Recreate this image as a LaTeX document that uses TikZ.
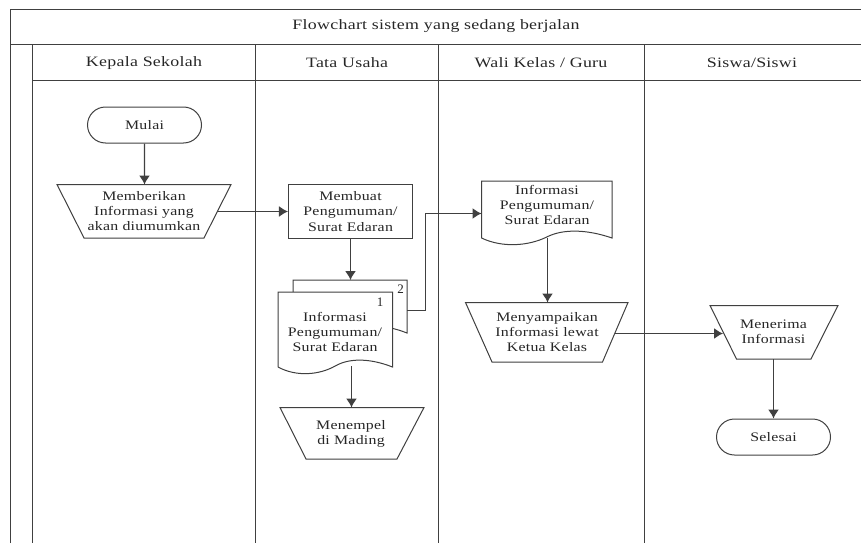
\documentclass[tikz,border=0pt]{standalone}
\usepackage{fontspec}
\setmainfont{Liberation Serif}
\usetikzlibrary{arrows.meta,shapes.misc}
\definecolor{ink}{HTML}{404040}
\tikzset{
  x=1pt,y=-1pt,
  labfont/.style={font=\fontsize{13}{15.2}\selectfont\addfontfeature{FakeStretch=1.22,LetterSpace=2}},
  frameline/.style={draw=ink,line width=1.3pt},
  thin line/.style={draw=ink,line width=1.1pt},
  lab/.style={labfont,align=center,text=black!85,inner sep=0pt},
  head/.style={font=\fontsize{14.3}{15}\selectfont\addfontfeature{FakeStretch=1.25,LetterSpace=2},align=center,text=black!85,inner sep=0pt},
  conn/.style={draw=ink,line width=1.3pt,-{Latex[length=9pt,width=11pt]}},
  terminal/.style={rounded rectangle,draw=ink,line width=1pt,minimum width=114pt,minimum height=36pt,inner sep=0pt,labfont,text=black!85},
  boxn/.style={rectangle,draw=ink,line width=1.1pt,fill=white,align=center,inner sep=0pt,labfont,text=black!85}
}
\newcommand{\docshape}[4]{% x1 x2 ytop ybottom-of-side
  \path[fill=white,draw=ink,line width=1pt] (#1,#4) -- (#1,#3) -- (#2,#3) -- (#2,#4)
   .. controls ({#2-0.2*(#2-#1)},{#4-9}) and ({#1+0.62*(#2-#1)},{#4-9}) .. ({#1+0.5*(#2-#1)},{#4-1})
   .. controls ({#1+0.36*(#2-#1)},{#4+8}) and ({#1+0.16*(#2-#1)},{#4+10}) .. (#1,#4);
}
\newcommand{\trap}[6]{% x1 x2 x3 x4 y1 y2
  \path[fill=white,draw=ink,line width=1pt] (#1,#5) -- (#2,#5) -- (#4,#6) -- (#3,#6) -- cycle;
}
\begin{document}
\begin{tikzpicture}
\useasboundingbox (0,0) rectangle (861,543);
% frame
\draw[frameline] (10.5,543) -- (10.5,9.5) -- (861,9.5);
\draw[frameline] (10.5,44.5) -- (861,44.5);
\draw[frameline] (32.5,44.5) -- (32.5,543);
\draw[thin line] (32.5,80.5) -- (861,80.5);
\draw[thin line] (255.5,44.5) -- (255.5,543);
\draw[thin line] (438.5,44.5) -- (438.5,543);
\draw[thin line] (644.5,44.5) -- (644.5,543);
\node[head] (title) at (436,26.5) {Flowchart sistem yang sedang berjalan};
\node[head] (h1) at (144,63) {Kepala Sekolah};
\node[head] (h2) at (347,63) {Tata Usaha};
\node[head] (h3) at (541,63) {Wali Kelas / Guru};
\node[head] (h4) at (752,63) {Siswa/Siswi};
% shapes
\node[terminal] (mulai) at (144.5,125) {Mulai};
\trap{57}{231}{84}{204}{184.5}{238}
\node[lab] (t1) at (144,211) {Memberikan\\Informasi yang\\akan diumumkan};
\coordinate (t1t) at (144.5,184.5);
\coordinate (t1r) at (217.5,211.5);
\node[boxn,minimum width=124pt,minimum height=54pt] (buat) at (350.5,211.5) {Membuat\\Pengumuman/\\Surat Edaran};
\docshape{293}{407}{280}{333}
\docshape{278}{392.5}{292}{367}
\node[lab] (d1) at (335,332) {Informasi\\Pengumuman/\\Surat Edaran};
\node[lab,font=\fontsize{13}{13}\selectfont] (n1) at (380,302) {1};
\node[lab,font=\fontsize{13}{13}\selectfont] (n2) at (400.5,289) {2};
\coordinate (d2t) at (350.5,280);
\coordinate (d1b) at (351.5,366);
\coordinate (d2r) at (407,310.5);
\docshape{481.5}{612}{181}{238}
\node[lab] (d3) at (547,205) {Informasi\\Pengumuman/\\Surat Edaran};
\coordinate (d3l) at (481.5,213.5);
\coordinate (d3b) at (547.5,238);
\trap{465.5}{628}{492}{602.5}{302.5}{362}
\node[lab] (t2) at (547,332) {Menyampaikan\\Informasi lewat\\Ketua Kelas};
\coordinate (t2t) at (547.5,302.5);
\coordinate (t2r) at (615,333.5);
\trap{710}{838}{736.5}{811}{305.5}{359}
\node[lab] (t3) at (773.5,332) {Menerima\\Informasi};
\coordinate (t3l) at (723,333.5);
\coordinate (t3b) at (773.5,359);
\node[terminal] (selesai) at (773.5,437) {Selesai};
\trap{280}{424}{306}{397}{407.5}{459}
\node[lab] (t4) at (351,434) {Menempel\\di Mading};
\coordinate (t4t) at (351.5,407.5);
% connectors
\draw[conn] (mulai) -- (t1t);
\draw[conn] (t1r) -- (buat.west);
\draw[conn] (buat.south) -- (d2t);
\draw[conn] (d1b) -- (t4t);
\draw[conn] (d2r) -- (425.5,310.5) -- (425.5,213.5) -- (d3l);
\draw[conn] (d3b) -- (t2t);
\draw[conn] (t2r) -- (t3l);
\draw[conn] (t3b) -- (selesai.north);
\end{tikzpicture}
\end{document}
